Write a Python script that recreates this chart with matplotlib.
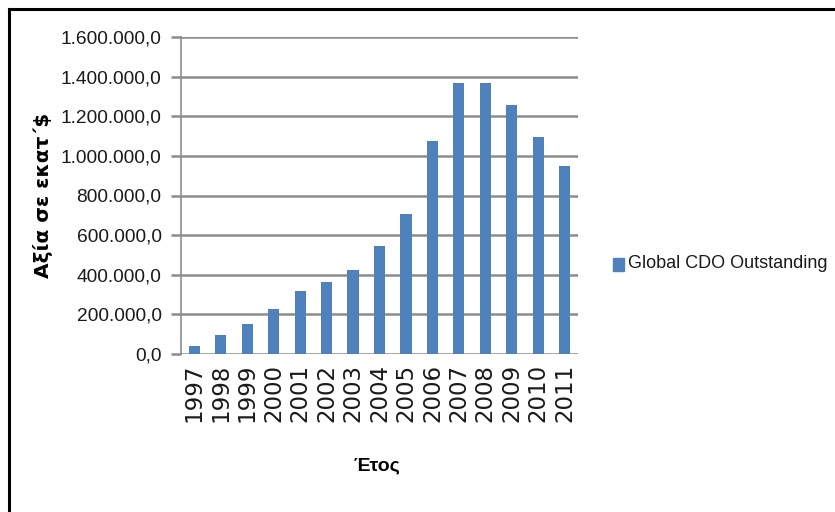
import matplotlib
matplotlib.use("Agg")
import matplotlib.pyplot as plt
from matplotlib import font_manager
from matplotlib.lines import Line2D
from matplotlib.ticker import FuncFormatter

years = ["1997", "1998", "1999", "2000", "2001", "2002", "2003", "2004",
         "2005", "2006", "2007", "2008", "2009", "2010", "2011"]
values = [42000, 96000, 152000, 227000, 318000, 364000, 424000, 545000,
          707000, 1076000, 1368000, 1368000, 1257000, 1096000, 948000]
yticks = [0, 200000, 400000, 600000, 800000, 1000000, 1200000, 1400000, 1600000]
series_name = "Global CDO Outstanding"
ylabel = "Αξία σε εκατ΄$"
xlabel = "Έτος"

names = {f.name for f in font_manager.fontManager.ttflist}
narrow = "Liberation Sans Narrow" if "Liberation Sans Narrow" in names else "Liberation Sans"

W, H = 835, 512
fig = plt.figure(figsize=(W / 100, H / 100), dpi=100)
ax = fig.add_axes([181 / W, 1 - 354 / H, (578 - 181) / W, (354 - 37) / H])

bar_color = "#4F81BD"
x = list(range(len(years)))
ax.bar(x, values, width=0.42, color=bar_color, zorder=3, label=series_name)
ax.set_xlim(-0.5, len(years) - 0.5)
ax.set_ylim(0, 1600000)
ax.set_yticks(yticks)

def fmt(v, pos):
    s = f"{int(round(v)):,}".replace(",", ".")
    return s + ",0"

ax.yaxis.set_major_formatter(FuncFormatter(fmt))
ax.set_xticks(x)
ax.set_xticklabels(years, rotation=90, family="DejaVu Sans", fontsize=16.5)
for lab in ax.get_yticklabels():
    lab.set_family(narrow)
    lab.set_fontsize(13.8)
ax.tick_params(axis="x", length=0, pad=7, colors="#1a1a1a")
ax.tick_params(axis="y", length=7, width=1.8, color="#8c8c8c", pad=7, colors="#1a1a1a")
ax.grid(axis="y", color="#8c8c8c", linewidth=1.8, zorder=0)
for s in ["top", "right", "bottom"]:
    ax.spines[s].set_visible(False)
ax.spines["left"].set_color("#8c8c8c")
ax.spines["left"].set_linewidth(1.2)

ax.set_ylabel(ylabel, fontsize=14.5, fontweight="bold", family="DejaVu Sans")
ax.yaxis.set_label_coords(-128 / (578 - 181), 0.5)
fig.text(377 / W, 1 - 466 / H, xlabel, ha="center", va="center", fontsize=14,
         family=narrow, fontweight="bold")

# legend
fig.patches.append(plt.Rectangle((613 / W, 1 - 271 / H), 11 / W, 13 / H,
                                 transform=fig.transFigure, color=bar_color))
fig.text(628 / W, 1 - 264 / H, series_name, ha="left", va="center", fontsize=13,
         family=narrow, color="#1a1a1a")

# outer frame
fig.add_artist(Line2D([9 / W, 9 / W], [0, 1 - 9 / H], transform=fig.transFigure,
                      color="black", linewidth=2.2))
fig.add_artist(Line2D([9 / W, 1], [1 - 9 / H, 1 - 9 / H], transform=fig.transFigure,
                      color="black", linewidth=2.2))

fig.savefig("out.png", dpi=100)
